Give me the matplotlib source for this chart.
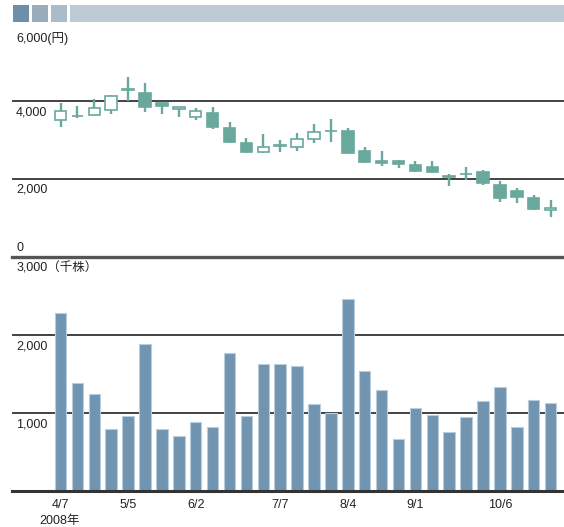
import numpy as np
import matplotlib.pyplot as plt
from matplotlib.patches import Rectangle
from matplotlib.transforms import blended_transform_factory

plt.rcParams['font.family'] = ['Liberation Sans', 'Noto Sans CJK JP']

# weekly candles from 2008-04-07 (yen) and weekly volume (thousand shares)
opens = [3510, 3600, 3630, 3766, 4290, 4195, 3938, 3784, 3594, 3682,
         3297, 2927, 2696, 2845, 2824, 3014, 3220, 3227, 2721, 2457,
         2457, 2354, 2295, 2050, 2120, 2183, 1841, 1695, 1499, 1199]
closes = [3748, 3620, 3810, 4126, 4306, 3851, 3877, 3851, 3748, 3338,
          2953, 2680, 2824, 2855, 3014, 3202, 3235, 2670, 2439, 2413,
          2372, 2200, 2183, 2058, 2126, 1884, 1499, 1540, 1217, 1258]
highs = [3954, 3869, 4049, 4159, 4621, 4467, 3954, 3851, 3825, 3836,
         3466, 3055, 3142, 2996, 3184, 3399, 3528, 3312, 2824, 2714,
         2483, 2457, 2457, 2116, 2295, 2226, 1951, 1756, 1584, 1456]
lows = [3338, 3553, 3630, 3664, 3997, 3723, 3664, 3579, 3510, 3279,
        2927, 2670, 2655, 2696, 2721, 2927, 2953, 2655, 2398, 2329,
        2270, 2183, 2141, 1815, 1969, 1841, 1412, 1371, 1199, 1012]
volumes = [2280, 1390, 1245, 790, 960, 1885, 790, 703, 880, 818,
           1770, 958, 1632, 1624, 1598, 1111, 1000, 2457, 1534, 1295,
           663, 1060, 974, 756, 945, 1150, 1329, 816, 1167, 1132]

tick_idx = [0, 4, 8, 13, 17, 21, 26]
tick_labels = ['4/7', '5/5', '6/2', '7/7', '8/4', '9/1', '10/6']

price_ticks = [6000, 4000, 2000]
price_labels = ['6,000(円)', '4,000', '2,000']
vol_ticks = [3000, 2000, 1000]
vol_labels = ['3,000（千株）', '2,000', '1,000']

teal = '#69a89d'
steel = '#7194b1'
ink = '#222222'
fs = 9

W, H = 564, 527
fig = plt.figure(figsize=(W / 100, H / 100), dpi=100)


def px_box(x0, y0, x1, y1):
    return [x0 / W, 1 - y1 / H, (x1 - x0) / W, (y1 - y0) / H]


# header strip
for x0, x1, col in [(13, 29, '#6f8ea8'), (32, 48, '#9aabb9'),
                    (51, 67, '#a9bccb'), (70, 564, '#bfc9d4')]:
    fig.add_artist(Rectangle((x0 / W, 1 - 22 / H), (x1 - x0) / W, 17 / H,
                             transform=fig.transFigure, color=col, lw=0))

ax_p = fig.add_axes(px_box(12, 23, 564, 256.7))
ax_v = fig.add_axes(px_box(12, 257, 564, 491))

x = np.arange(len(volumes))
o, c = np.array(opens), np.array(closes)
up = c >= o

for ax in (ax_p, ax_v):
    ax.set_xlim(-2.87, 29.79)
    ax.patch.set_visible(False)
    for s in ax.spines.values():
        s.set_visible(False)
    ax.set_yticks([])

# price panel
ax_p.set_ylim(0, 6000)
ax_p.set_xticks([])
for v in [4000, 2000]:
    ax_p.axhline(v, color=ink, lw=1.2, zorder=1)
ax_p.axhline(0, color='#555555', lw=2.4, zorder=1, clip_on=False)
ax_p.vlines(x, lows, highs, color=teal, lw=1.7, zorder=3)
ax_p.bar(x, np.maximum(np.abs(c - o), 15), bottom=np.minimum(o, c), width=0.68,
         color=np.where(up, 'white', teal), edgecolor=teal, lw=1.2, zorder=4)

tp = blended_transform_factory(ax_p.transAxes, ax_p.transData)
for v, lab in zip(price_ticks, price_labels):
    dy = -11 if v == 6000 else -8
    ax_p.annotate(lab, xy=(0, v), xycoords=tp, xytext=(3, dy),
                  textcoords='offset points', va='center', ha='left',
                  fontsize=fs, color=ink)
ax_p.annotate('0', xy=(0, 0), xycoords=tp, xytext=(3, 6.5),
              textcoords='offset points', va='center', ha='left',
              fontsize=fs, color=ink)

# volume panel
ax_v.set_ylim(0, 3000)
for v in [2000, 1000]:
    ax_v.axhline(v, color=ink, lw=1.2, zorder=1)
ax_v.axhline(0, color='#333333', lw=2.2, zorder=3, clip_on=False)
ax_v.bar(x, volumes, width=0.68, color=steel, edgecolor='#b9cddc', lw=0.8,
         zorder=2)

tv = blended_transform_factory(ax_v.transAxes, ax_v.transData)
for v, lab in zip(vol_ticks, vol_labels):
    ax_v.annotate(lab, xy=(0, v), xycoords=tv, xytext=(3, -8.5),
                  textcoords='offset points', va='center', ha='left',
                  fontsize=fs, color=ink)

ax_v.set_xticks(tick_idx, tick_labels, fontsize=fs, color=ink)
ax_v.tick_params(axis='x', length=0, pad=6)
ax_v.annotate('2008年', xy=(0, 0), xycoords='data', xytext=(-1, -21.5),
              textcoords='offset points', va='center', ha='center',
              fontsize=fs, color=ink)

fig.savefig('out.png', dpi=100)
